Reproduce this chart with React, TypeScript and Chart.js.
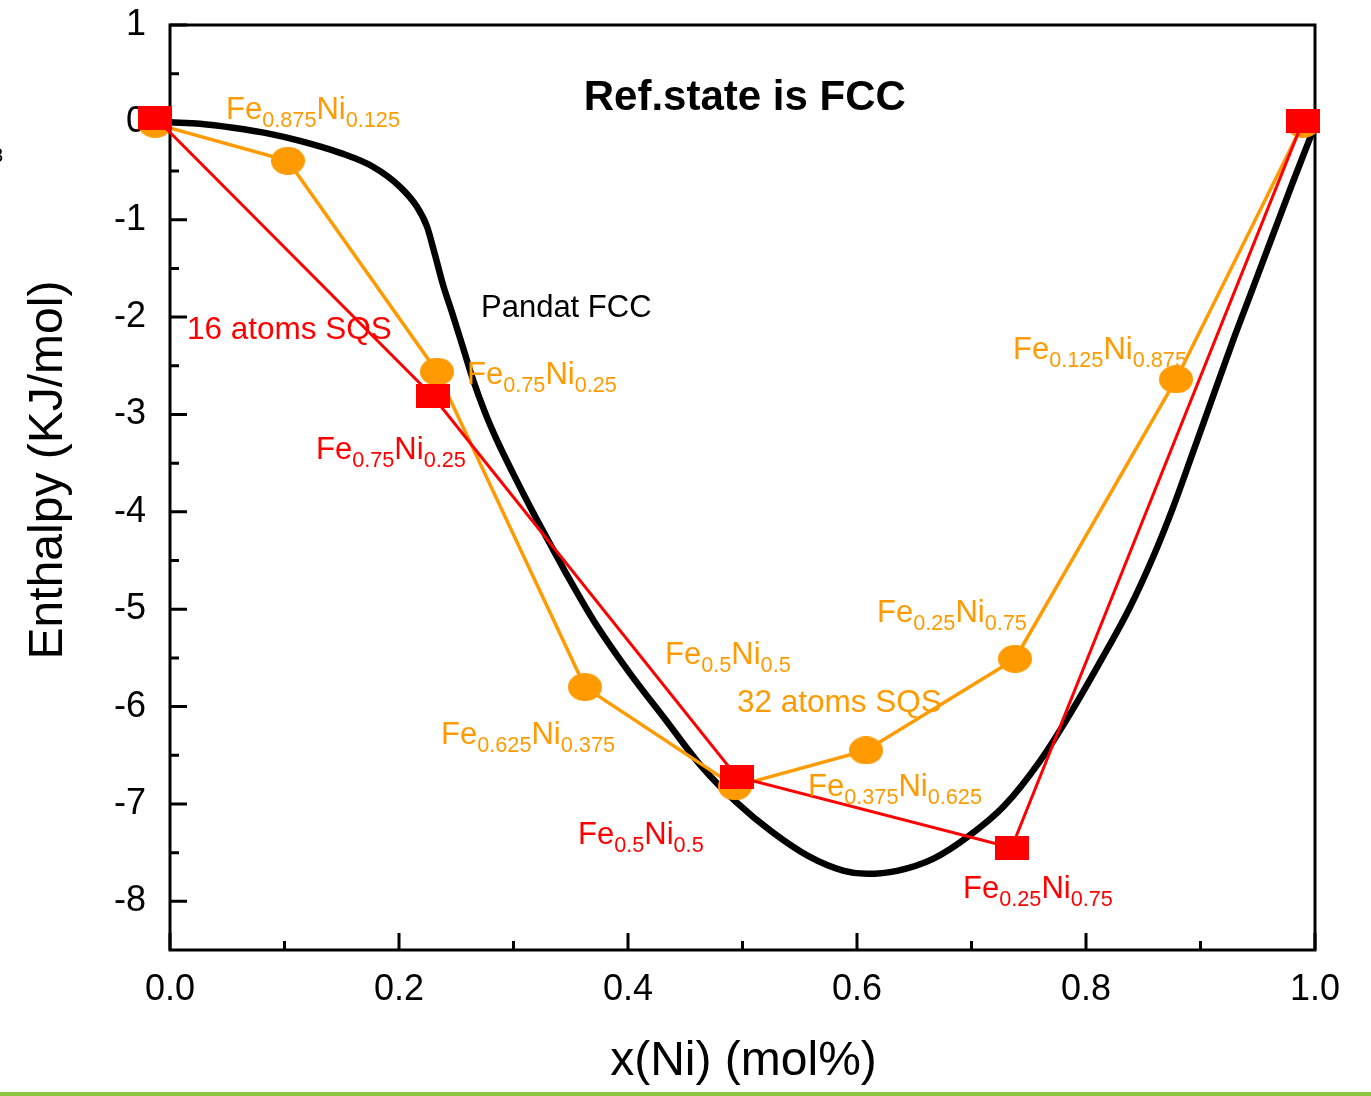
import { useEffect, useRef } from "react";
import { Chart, registerables } from "chart.js";

Chart.register(...registerables);

const FONT = '"Liberation Sans", Arial, Helvetica, sans-serif';
const ORANGE = "#FF9A00";
const RED = "#FF0000";
const GREEN = "#8DC63F";

// 16-atom SQS formation enthalpies (kJ/mol) vs Ni fraction
const sqs16X = [-0.013, 0.2297, 0.495, 0.735, 0.9895];
const sqs16H = [0.05, -2.815, -6.72, -7.45, 0.015];

// 32-atom SQS formation enthalpies (kJ/mol) vs Ni fraction
const sqs32X = [-0.013, 0.103, 0.2332, 0.3624, 0.4934, 0.6079, 0.738, 0.8786, 0.9895];
const sqs32H = [-0.015, -0.395, -2.56, -5.8, -6.82, -6.45, -5.51, -2.64, -0.015];

// Pandat FCC mixing enthalpy curve
const pandatX = [
  0, 0.0262, 0.055, 0.0873, 0.1135, 0.1485, 0.1773, 0.2009, 0.2157, 0.2245, 0.2314,
  0.2384, 0.2472, 0.2559, 0.2646, 0.2751, 0.2856, 0.2996, 0.317, 0.3345, 0.3459, 0.3703,
  0.4009, 0.4323, 0.4638, 0.4943, 0.5258, 0.5572, 0.5886, 0.6087, 0.6349, 0.6664, 0.6978,
  0.7284, 0.7598, 0.786, 0.8122, 0.8384, 0.8585, 0.876, 0.8934, 0.9109, 0.9284, 0.9459,
  0.9633, 0.9808, 1.0,
];
const pandatH = [
  0, -0.015, -0.056, -0.118, -0.19, -0.313, -0.456, -0.662, -0.867, -1.072, -1.359,
  -1.667, -1.985, -2.313, -2.641, -2.979, -3.267, -3.605, -4.005, -4.385, -4.631, -5.123,
  -5.646, -6.128, -6.61, -6.979, -7.287, -7.533, -7.687, -7.718, -7.687, -7.564, -7.328,
  -7.021, -6.559, -6.077, -5.544, -4.98, -4.467, -3.956, -3.39, -2.815, -2.241, -1.697,
  -1.154, -0.61, -0.03,
];

const xTicks = [0, 0.2, 0.4, 0.6, 0.8, 1.0];
const xMinorTicks = [0.1, 0.3, 0.5, 0.7, 0.9];
const yTicks = [1, 0, -1, -2, -3, -4, -5, -6, -7, -8];
const yMinorTicks = [0.5, -0.5, -1.5, -2.5, -3.5, -4.5, -5.5, -6.5, -7.5];

type Part = [string, boolean];
type Note = { x: number; y: number; color: string; parts: Part[]; size: number; bold?: boolean; center?: boolean };

const formula = (fe: string, ni: string): Part[] => [
  ["Fe", false],
  [fe, true],
  ["Ni", false],
  [ni, true],
];

// Text annotations, anchored in data coordinates (left edge, baseline)
const notes: Note[] = [
  { x: 0.502, y: 0.128, color: "#000", parts: [["Ref.state is FCC", false]], size: 42, bold: true, center: true },
  { x: 0.2716, y: -1.995, color: "#000", parts: [["Pandat FCC", false]], size: 31 },
  { x: 0.0148, y: -2.221, color: RED, parts: [["16 atoms SQS", false]], size: 31.5 },
  { x: 0.4952, y: -6.056, color: ORANGE, parts: [["32 atoms SQS", false]], size: 31.5 },
  { x: 0.0489, y: 0.036, color: ORANGE, parts: formula("0.875", "0.125"), size: 31 },
  { x: 0.2594, y: -2.692, color: ORANGE, parts: formula("0.75", "0.25"), size: 31 },
  { x: 0.1275, y: -3.462, color: RED, parts: formula("0.75", "0.25"), size: 31 },
  { x: 0.7362, y: -2.426, color: ORANGE, parts: formula("0.125", "0.875"), size: 31 },
  { x: 0.6175, y: -5.133, color: ORANGE, parts: formula("0.25", "0.75"), size: 31 },
  { x: 0.4323, y: -5.564, color: ORANGE, parts: formula("0.5", "0.5"), size: 31 },
  { x: 0.5572, y: -6.918, color: ORANGE, parts: formula("0.375", "0.625"), size: 31 },
  { x: 0.2367, y: -6.385, color: ORANGE, parts: formula("0.625", "0.375"), size: 31 },
  { x: 0.3563, y: -7.415, color: RED, parts: formula("0.5", "0.5"), size: 31 },
  { x: 0.6926, y: -7.964, color: RED, parts: formula("0.25", "0.75"), size: 31 },
];

function makeMarker(kind: "ellipse" | "rect", w: number, h: number, color: string) {
  const c = document.createElement("canvas");
  c.width = w;
  c.height = h;
  const g = c.getContext("2d")!;
  g.fillStyle = color;
  if (kind === "ellipse") {
    g.beginPath();
    g.ellipse(w / 2, h / 2, w / 2, h / 2, 0, 0, Math.PI * 2);
    g.fill();
  } else {
    g.fillRect(0, 0, w, h);
  }
  return c;
}

const framePlugin = {
  id: "frameTicks",
  beforeDatasetsDraw(chart: any) {
    const { ctx, chartArea: a, scales } = chart;
    ctx.save();
    ctx.strokeStyle = "#000";
    ctx.lineWidth = 3;
    ctx.strokeRect(a.left, a.top, a.right - a.left, a.bottom - a.top);
    ctx.beginPath();
    const tick = (len: number, vals: number[], axis: "x" | "y") => {
      for (const v of vals) {
        if (axis === "x") {
          const px = scales.x.getPixelForValue(v);
          ctx.moveTo(px, a.bottom);
          ctx.lineTo(px, a.bottom - len);
        } else {
          const py = scales.y.getPixelForValue(v);
          ctx.moveTo(a.left, py);
          ctx.lineTo(a.left + len, py);
        }
      }
    };
    tick(17, xTicks, "x");
    tick(9, xMinorTicks, "x");
    tick(17, yTicks, "y");
    tick(9, yMinorTicks, "y");
    ctx.stroke();
    ctx.restore();
  },
  afterDraw(chart: any) {
    const { ctx, scales, chartArea: a } = chart;
    ctx.save();
    ctx.textBaseline = "alphabetic";
    for (const n of notes) {
      let x = scales.x.getPixelForValue(n.x);
      const y = scales.y.getPixelForValue(n.y);
      const subSize = n.size * 0.7;
      const fontOf = (sub: boolean) =>
        `${n.bold ? "bold " : ""}${sub ? subSize : n.size}px ${FONT}`;
      if (n.center) {
        let w = 0;
        for (const [t, sub] of n.parts) {
          ctx.font = fontOf(sub);
          w += ctx.measureText(t).width;
        }
        x -= w / 2;
      }
      ctx.fillStyle = n.color;
      for (const [t, sub] of n.parts) {
        ctx.font = fontOf(sub);
        ctx.fillText(t, x, sub ? y + 8 : y);
        x += ctx.measureText(t).width;
      }
    }
    // axis titles
    ctx.fillStyle = "#000";
    ctx.font = `48px ${FONT}`;
    ctx.textAlign = "center";
    ctx.fillText("x(Ni) (mol%)", (a.left + a.right) / 2 + 1, 1075);
    ctx.save();
    ctx.translate(62, 470);
    ctx.rotate(-Math.PI / 2);
    ctx.fillText("Enthalpy (KJ/mol)", 0, 0);
    ctx.restore();
    ctx.textAlign = "left";
    ctx.font = `20px ${FONT}`;
    ctx.fillText("3", -8, 162);
    ctx.fillStyle = GREEN;
    ctx.fillRect(0, 1092, chart.width, 4);
    ctx.restore();
  },
};

export default function App() {
  const ref = useRef<HTMLCanvasElement>(null);

  useEffect(() => {
    const canvas = ref.current!;
    const circle = makeMarker("ellipse", 34, 28, ORANGE);
    const square = makeMarker("rect", 34, 24, RED);
    const noPad = (s: any) => {
      s.paddingTop = 0;
      s.paddingBottom = 0;
      s.paddingLeft = 0;
      s.paddingRight = 0;
    };
    const chart = new Chart(canvas, {
      type: "line",
      data: {
        datasets: [
          {
            label: "16 atoms SQS",
            data: sqs16X.map((x, i) => ({ x, y: sqs16H[i] })),
            borderColor: RED,
            borderWidth: 3,
            pointStyle: square as any,
            pointRadius: 17,
            tension: 0,
            clip: false as any,
            order: 0,
          },
          {
            label: "32 atoms SQS",
            data: sqs32X.map((x, i) => ({ x, y: sqs32H[i] })),
            borderColor: ORANGE,
            borderWidth: 3.5,
            pointStyle: circle as any,
            pointRadius: 17,
            tension: 0,
            clip: false as any,
            order: 1,
          },
          {
            label: "Pandat FCC",
            data: pandatX.map((x, i) => ({ x, y: pandatH[i] })),
            borderColor: "#000",
            borderWidth: 6.5,
            pointRadius: 0,
            cubicInterpolationMode: "monotone",
            clip: false as any,
            order: 2,
          },
        ],
      },
      options: {
        responsive: false,
        animation: false,
        devicePixelRatio: 1,
        layout: { padding: { left: 0, top: 25, right: 56, bottom: 0 } },
        plugins: { legend: { display: false }, tooltip: { enabled: false } },
        scales: {
          x: {
            type: "linear",
            min: 0,
            max: 1,
            grid: { display: false, drawTicks: false },
            border: { display: false },
            afterBuildTicks: (s: any) => {
              s.ticks = xTicks.map((v) => ({ value: v }));
            },
            afterFit: (s: any) => {
              s.height = 146;
              noPad(s);
            },
            ticks: {
              color: "#000",
              font: { family: FONT, size: 36 },
              padding: 18,
              maxRotation: 0,
              callback: (v: any) => Number(v).toFixed(1),
            },
          },
          y: {
            type: "linear",
            min: -8.5,
            max: 1,
            grid: { display: false, drawTicks: false },
            border: { display: false },
            afterBuildTicks: (s: any) => {
              s.ticks = yTicks.map((v) => ({ value: v }));
            },
            afterFit: (s: any) => {
              s.width = 170;
              noPad(s);
            },
            ticks: {
              color: "#000",
              font: { family: FONT, size: 36 },
              padding: 24,
              callback: (v: any) => String(v),
            },
          },
        },
      },
      plugins: [framePlugin],
    });
    return () => chart.destroy();
  }, []);

  return (
    <div style={{ position: "fixed", left: 0, top: 0, width: 1371, height: 1096, background: "#fff" }}>
      <canvas ref={ref} width={1371} height={1096} style={{ display: "block" }} />
    </div>
  );
}
